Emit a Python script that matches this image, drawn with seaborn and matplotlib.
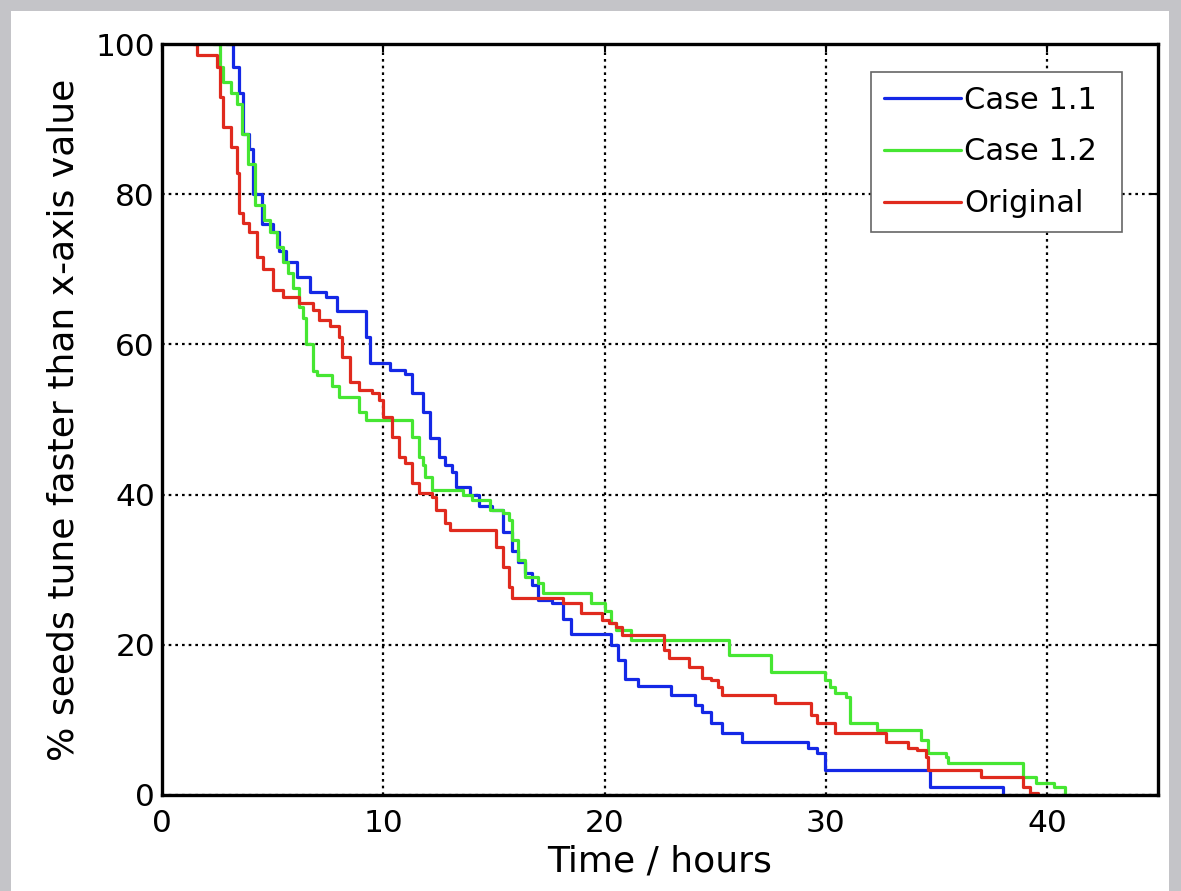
import numpy as np
import pandas as pd
import matplotlib
matplotlib.use("Agg")
import matplotlib.pyplot as plt
import seaborn as sns
from matplotlib.patches import Rectangle

# ---- data ----
case11_x = [2.9, 3.2, 3.5, 3.65, 3.95, 4.1, 4.5, 5.0, 5.3, 5.6, 6.1, 6.7, 7.4, 7.9, 9.2, 9.4,
            10.3, 11.0, 11.3, 11.8, 12.1, 12.5, 12.8, 13.1, 13.3, 13.9, 14.3, 14.9, 15.4, 15.8,
            16.1, 16.4, 16.7, 17.0, 17.6, 18.1, 18.5, 20.3, 20.6, 20.9, 21.5, 23.0, 24.1, 24.4,
            24.8, 25.3, 26.2, 29.2, 29.6, 29.95, 34.7, 38.0]
case11_y = [100, 97, 93.5, 88, 86, 80, 76, 75, 72.5, 71, 69, 67, 66.3, 64.5, 61, 57.5,
            56.6, 56, 53.5, 51, 47.5, 45, 44, 43, 41, 40, 38.5, 38, 35, 32.5,
            31, 29.5, 28, 26, 25.5, 23.5, 21.5, 20, 18, 15.5, 14.5, 13.3, 12, 11,
            9.6, 8.3, 7.1, 6.3, 5.6, 3.3, 1.1, 0]

case12_x = [2.3, 2.6, 2.75, 3.1, 3.4, 3.6, 3.9, 4.2, 4.6, 4.9, 5.2, 5.45, 5.7, 5.9, 6.2, 6.35,
            6.5, 6.8, 7.0, 7.7, 8.0, 8.9, 9.2, 11.3, 11.6, 11.8, 11.9, 12.2, 13.6, 14.0, 14.8,
            15.4, 15.7, 15.8, 16.1, 16.4, 17.0, 17.2, 19.4, 20.0, 20.3, 20.5, 21.2, 25.6, 27.5,
            29.95, 30.2, 30.4, 30.9, 31.1, 32.3, 34.3, 34.6, 35.4, 35.5, 38.9, 39.5, 40.3, 40.8]
case12_y = [100, 97, 95, 93.5, 92, 88, 84, 78.5, 76.5, 75, 73, 71, 69.5, 67.5, 65, 63.5,
            60, 56.5, 55.9, 54.5, 53, 51, 49.9, 47.7, 45, 44, 42.3, 40.6, 40, 39.3, 38,
            37.5, 36.6, 34, 31.3, 29, 28.2, 26.9, 25.6, 24.5, 22.9, 22, 20.6, 18.6, 16.4,
            15.3, 14.4, 13.6, 13, 9.6, 8.7, 7.3, 5.6, 5.1, 4.3, 2.4, 1.6, 1.1, 0]

orig_x = [1.4, 1.6, 2.5, 2.6, 2.75, 3.1, 3.4, 3.5, 3.65, 3.95, 4.3, 4.55, 5.0, 5.45, 6.2, 6.8,
          7.1, 7.6, 8.0, 8.15, 8.5, 8.9, 9.5, 9.8, 10.0, 10.4, 10.7, 11.0, 11.3, 11.6, 12.2,
          12.4, 12.8, 13.0, 15.1, 15.4, 15.7, 15.8, 18.1, 18.95, 19.9, 20.2, 20.5, 20.8, 22.7,
          22.9, 23.8, 24.4, 24.8, 25.1, 25.3, 27.7, 29.3, 29.6, 30.4, 32.7, 33.7, 34.1, 34.5,
          34.6, 37.0, 38.9, 39.2, 39.6]
orig_y = [100, 98.5, 97, 93, 89, 86.3, 82.8, 77.5, 76.2, 75, 71.6, 70, 67.2, 66.3, 65.5, 64.6,
          63.2, 62.5, 61, 58.3, 55, 53.9, 53.5, 52.6, 50.3, 47.7, 45, 44.2, 41.5, 40.2, 39.7,
          37.9, 36.2, 35.3, 33, 30.4, 27.7, 26.2, 25.6, 24.2, 23.3, 22.9, 22.4, 21.3, 19.3,
          18.2, 17, 15.6, 15.3, 14.4, 13.3, 12.3, 10.7, 9.6, 8.3, 7.1, 6.3, 6, 5.1,
          3.3, 2.4, 1.1, 0.3, 0]

series_names = ["Case 1.1", "Case 1.2", "Original"]
series_colors = ["#1428e6", "#46e632", "#e02a1e"]
x_ticks = [0, 10, 20, 30, 40]
y_ticks = [0, 20, 40, 60, 80, 100]

df = pd.concat([
    pd.DataFrame({"time": case11_x, "pct": case11_y, "case": series_names[0]}),
    pd.DataFrame({"time": case12_x, "pct": case12_y, "case": series_names[1]}),
    pd.DataFrame({"time": orig_x, "pct": orig_y, "case": series_names[2]}),
], ignore_index=True)

sns.set_style("white")
plt.rcParams["font.family"] = ["DejaVu Sans"]
plt.rcParams["text.color"] = "black"
plt.rcParams["axes.labelcolor"] = "black"

W, H = 1181, 891
fig = plt.figure(figsize=(W / 100, H / 100), dpi=100)
fig.patch.set_facecolor("#c4c4c8")
fig.patches.append(Rectangle((11 / W, 0), (1169 - 11) / W, 1 - 11 / H,
                             transform=fig.transFigure, facecolor="white",
                             edgecolor="none", zorder=-10))

ax = fig.add_axes([162 / W, 1 - 795 / H, (1158 - 162) / W, (795 - 44) / H])
ax.set_zorder(5)
ax.set_facecolor("white")

sns.lineplot(data=df, x="time", y="pct", hue="case", hue_order=series_names,
             palette=series_colors, estimator=None, sort=False,
             drawstyle="steps-post", linewidth=2.3, ax=ax, legend=True)

ax.set_xlim(0, 45)
ax.set_ylim(0, 100)
ax.set_xticks(x_ticks)
ax.set_yticks(y_ticks)
ax.grid(True, color="black", linestyle=(0, (1.2, 1.8)), linewidth=1.6)
ax.set_axisbelow(True)
for s in ax.spines.values():
    s.set_visible(True)
    s.set_color("black")
    s.set_linewidth(2.4)
ax.tick_params(direction="in", length=6, width=1.5, top=True, right=True,
               labelsize=22.5, colors="black")
ax.tick_params(axis="x", pad=10)
ax.tick_params(axis="y", pad=5)
ax.set_xlabel("Time / hours", fontsize=26, labelpad=5)
ax.set_ylabel("% seeds tune faster than x-axis value", fontsize=26, labelpad=11)

leg = ax.legend(loc="upper left", mode="expand",
                bbox_to_anchor=(0.7115, 0.750, 0.2525, 0.213), fontsize=22,
                frameon=True, fancybox=False, edgecolor="#666666", framealpha=1,
                handlelength=2.5, handletextpad=0.1, borderpad=0.45,
                labelspacing=0.75, borderaxespad=0)
leg.get_frame().set_linewidth(1.2)
for line in leg.get_lines():
    line.set_linewidth(2.3)

fig.savefig("out.png", dpi=100)
